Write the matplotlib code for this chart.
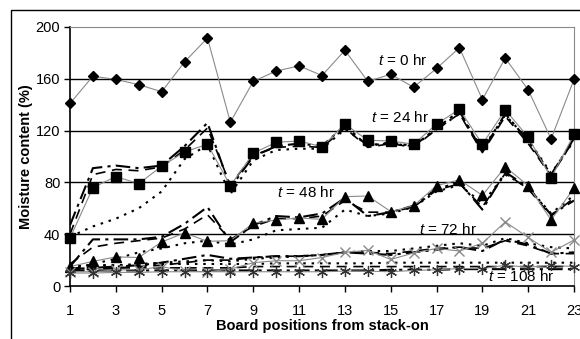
import matplotlib
matplotlib.use('Agg')
import matplotlib.pyplot as plt
from matplotlib.patches import Rectangle

plt.rcParams['font.family'] = ['Liberation Sans', 'DejaVu Sans']
plt.rcParams['mathtext.fontset'] = 'custom'
plt.rcParams['mathtext.it'] = 'Liberation Sans:italic'
plt.rcParams['mathtext.rm'] = 'Liberation Sans'

# board positions along the stack
pos = list(range(1, 24))

# measured moisture content (%)
m0 = [141, 162, 159.5, 155.5, 150, 173, 191.5, 126.5, 158, 166, 170, 162.5, 182,
      158, 163.5, 153.5, 168, 184, 144, 176, 151.5, 113.5, 159.5]
m24 = [37, 76, 84.5, 79, 92.5, 103.5, 109.5, 77.5, 102.5, 111, 112, 107.5, 125,
       112.5, 112, 109.5, 125, 136.5, 109.5, 136, 115, 83.5, 117]
m48 = [15, 19, 22.5, 22, 34, 41, 34.5, 35, 48.5, 51, 52.5, 51.5, 69, 69.5,
       57.5, 62, 77.5, 82, 70, 92, 77.5, 51, 75.5]
m72 = [11, 11, 12.5, 12.5, 15, 11.5, 11, 13, 18, 19.5, 19.5, 22, 26, 27.5,
       20.5, 25.5, 29, 27, 33, 49.5, 37.5, 26, 35.5]
m108 = [10, 10, 10.5, 10.5, 11, 11, 11, 11, 11, 11, 11, 11, 11.5, 11.5,
        11, 12, 12.5, 13.5, 13.5, 16, 14.5, 16, 15]

# predicted moisture content, three models per drying time
dd24 = [47, 91, 93, 91, 93, 108, 126, 76, 100, 108, 110, 108, 124, 108, 111,
        108, 122, 135, 104, 133, 112, 86, 114]
da24 = [40, 86, 90, 89, 92, 105, 122, 78, 101, 107, 108, 107, 122, 107, 110,
        107, 121, 133, 103, 131, 110, 85, 113]
do24 = [38, 46, 52, 60, 73, 98, 109, 71, 97, 105, 106, 106, 121, 109, 110,
        108, 121, 133, 106, 132, 113, 87, 112]

dd48 = [15, 36, 36, 36, 38, 48, 61, 34, 47, 54, 53, 56, 68, 54, 57, 62, 75,
        80, 59, 88, 76, 55, 66]
da48 = [17, 30, 33, 35, 37, 44, 55, 36, 46, 52, 52, 54, 66, 57, 57, 61, 74,
        79, 61, 87, 75, 54, 68]
do48 = [13, 17, 21, 26, 29, 33, 35, 32, 36, 43, 44, 45, 59, 54, 56, 61, 73,
        78, 64, 86, 76, 56, 70]

dd72 = [13, 14, 15, 16, 18, 21, 24, 21, 22, 23, 23, 24, 26, 25, 24, 26, 28,
        30, 27, 36, 32, 25, 26]
da72 = [12, 13, 14, 15, 16, 18, 20, 20, 22, 23, 23, 24, 26, 26, 25, 27, 29,
        30, 29, 35, 31, 25, 25]
do72 = [15, 16, 16, 17, 18, 19, 20, 19, 21, 22, 23, 24, 26, 27, 27, 29, 31,
        33, 31, 37, 33, 30, 29]

dd108 = [12, 12, 12, 12, 12, 12, 12, 12, 12, 12, 12, 12, 12, 12, 12.5, 12.5,
         12.5, 13, 13, 13, 13, 13, 13]
da108 = [14, 14, 14, 14, 14, 14, 14, 14, 15, 15, 15, 15, 15, 15, 15, 15, 15,
         15, 15, 15, 15, 15, 15]
do108 = [15, 16, 16, 16, 17, 17, 17, 17, 17, 17.5, 17.5, 17.5, 17.5, 17.5,
         18, 18, 18, 18, 18, 18, 18, 18, 18]

labels = ['$t$ = 0 hr', '$t$ = 24 hr', '$t$ = 48 hr', '$t$ = 72 hr', '$t$ = 108 hr']
label_xy = [(14.45, 174), (14.15, 130), (10.05, 72), (16.25, 44), (19.25, 7.5)]

fig = plt.figure(figsize=(5.8, 3.39), dpi=100)
fig.patch.set_facecolor('white')
ax = fig.add_axes([70 / 580, 1 - 286 / 339, 504 / 580, 259 / 339])

# outer frame
fig.patches.append(Rectangle((11 / 580, -0.05), 1.0, 1 - 10 / 339 + 0.05,
                             transform=fig.transFigure, fill=False,
                             edgecolor='black', lw=1.0, zorder=0))

for v in [40, 80, 120, 160]:
    ax.axhline(v, color='black', lw=1.0, zorder=1)

dd = dict(color='black', lw=1.5, dashes=(7, 2.5, 1.5, 2.5), zorder=2)
da = dict(color='black', lw=1.2, dashes=(6, 4), zorder=2)
do = dict(color='black', lw=1.5, dashes=(1.2, 2.8), zorder=2)
for a, b, c in [(dd24, da24, do24), (dd48, da48, do48),
                (dd72, da72, do72), (dd108, da108, do108)]:
    ax.plot(pos, a, **dd)
    ax.plot(pos, b, **da)
    ax.plot(pos, c, **do)

gray = '#8a8a8a'
ax.plot(pos, m0, color=gray, lw=0.8, marker='D', ms=5.5, mfc='black',
        mec='black', clip_on=False, zorder=4)
ax.plot(pos, m24, color=gray, lw=0.8, marker='s', ms=7, mfc='black',
        mec='black', clip_on=False, zorder=4)
ax.plot(pos, m48, color=gray, lw=0.8, marker='^', ms=7.5, mfc='black',
        mec='black', clip_on=False, zorder=4)
ax.plot(pos, m72, color=gray, lw=0.8, marker='x', ms=7, mec=gray, mew=1.0,
        clip_on=False, zorder=4)
ax.plot(pos, m108, color=gray, lw=0.8, marker=(6, 2, 0), ms=8, mec='#333333',
        mew=0.9, clip_on=False, zorder=4)

for s, (x, y) in zip(labels, label_xy):
    ax.text(x, y, s, fontsize=11, ha='left', va='center', zorder=5)

ax.set_xlim(1, 23)
ax.set_ylim(0, 200)
ax.set_xticks(range(1, 24, 2))
ax.set_yticks(range(0, 201, 40))
ax.tick_params(axis='both', direction='out', length=4, width=1, labelsize=10.5,
               colors='black')
ax.tick_params(axis='x', pad=9)
ax.tick_params(axis='y', pad=3)
for side in ['top', 'right']:
    ax.spines[side].set_color('#8a8a8a')
for side in ['left', 'bottom']:
    ax.spines[side].set_color('black')
    ax.spines[side].set_linewidth(1.2)

ax.set_xlabel('Board positions from stack-on', fontsize=10.5,
              fontweight='bold', labelpad=1)
ax.set_ylabel('Moisture content (%)', fontsize=10.5, fontweight='bold',
              labelpad=2)

fig.savefig('out.png', dpi=100)
